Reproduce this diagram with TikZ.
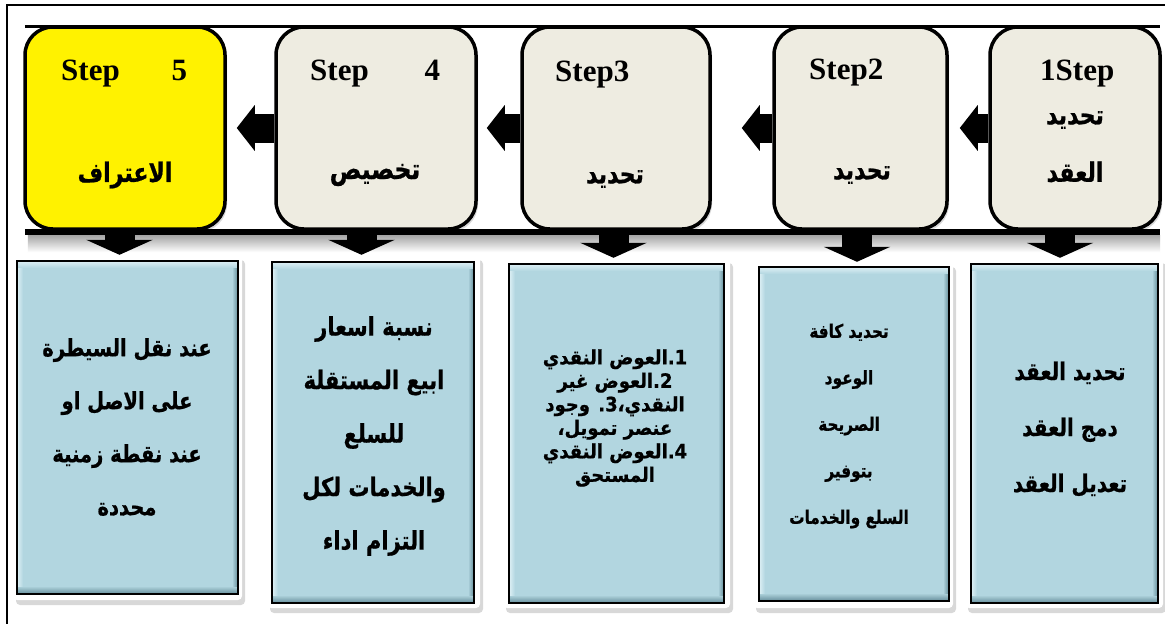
\documentclass[tikz,border=0pt]{standalone}
\usepackage{fontspec}
\setmainfont{Liberation Serif}
\newfontfamily\arabicfont[Script=Arabic, BoldFeatures={FakeBold=0.8}]{DejaVu Sans}
\TeXXeTstate=1
\usetikzlibrary{arrows.meta,shadows,calc}
\newcommand{\artext}[1]{\scalebox{1}[1.22]{\beginR #1\endR}}
\newcommand{\artextsmall}[1]{\scalebox{1}[1.1]{\beginR #1\endR}}
\definecolor{beige}{RGB}{238,236,225}
\definecolor{boxblue}{RGB}{178,214,224}
\definecolor{bevdark}{RGB}{110,150,162}
\definecolor{bevlight}{RGB}{215,236,242}
\begin{document}
\begin{tikzpicture}[x=1pt,y=-1pt,
  topbox/.style={draw=black, line width=3.5pt, rounded corners=28pt, fill=beige, inner sep=0pt,
    minimum height=202pt, drop shadow={opacity=0.3, shadow xshift=2pt, shadow yshift=-3pt}},
  bframe/.style={fill=white, rounded corners=4pt, inner sep=0pt,
    drop shadow={opacity=0.3, shadow xshift=3pt, shadow yshift=-5pt}},
  binner/.style={fill=boxblue, draw=black, line width=2pt, inner sep=0pt},
  larrow/.style={line width=29pt, -{Triangle[width=45pt,length=18pt]}},
  darrow/.style={line width=30pt, -{Triangle[width=66pt,length=15pt]}},
  steptxt/.style={font=\fontsize{31}{36}\selectfont\bfseries, inner sep=0pt, anchor=base west},
  artop/.style={font=\arabicfont\bfseries\fontsize{22}{26}\selectfont, inner sep=0pt},
  arbox/.style={align=center, inner sep=0pt}
]
\useasboundingbox (0,0) rectangle (1165,624);
\fill[white] (0,0) rectangle (1165,624);
% outer frame
\draw[line width=2pt] (7,624) -- (7,5) -- (1165,5);

% band behind the top boxes
\node[fill=white, minimum width=1135pt, minimum height=205pt, inner sep=0pt] (band) at (592.5,129.5) {};
\shade[top color=black!35, bottom color=white] ($(band.south west)+(3,3)$) rectangle ($(band.south east)+(0,20)$);
\draw[line width=3pt] (band.north west) -- (band.north east);

% top boxes
\node[topbox, fill=yellow, minimum width=200pt] (t5) at (125,128) {};
\node[topbox, minimum width=200pt] (t4) at (376,128) {};
\node[topbox, minimum width=188pt] (t3) at (616,128) {};
\node[topbox, minimum width=173pt] (t2) at (860.5,128) {};
\node[topbox, minimum width=170pt] (t1) at (1075,128) {};
\draw[line width=6pt] (band.south west) -- (band.south east);

% bottom boxes
\node[bframe, minimum width=229pt, minimum height=345pt] (b5) at (127.5,427.5) {};
\node[bframe, minimum width=213pt, minimum height=353pt] (b4) at (373.5,431.5) {};
\node[bframe, minimum width=227pt, minimum height=350pt] (b3) at (616.5,433) {};
\node[bframe, minimum width=200pt, minimum height=346pt] (b2) at (853,435) {};
\node[bframe, minimum width=198pt, minimum height=350pt] (b1) at (1064,433) {};
\node[binner, minimum width=219pt, minimum height=331pt] (b5i) at (127.5,427.5) {};
\node[binner, minimum width=200pt, minimum height=339pt] (b4i) at (373,432.5) {};
\node[binner, minimum width=213pt, minimum height=337pt] (b3i) at (616.5,433.5) {};
\node[binner, minimum width=188pt, minimum height=332pt] (b2i) at (854,434) {};
\node[binner, minimum width=185pt, minimum height=337pt] (b1i) at (1064.5,433.5) {};
\foreach \n in {b1i,b2i,b3i,b4i,b5i}{
  \shade[top color=bevlight, bottom color=boxblue] ($(\n.north west)+(1,1)$) rectangle ($(\n.north east)+(-1,7)$);
  \shade[top color=boxblue, bottom color=bevdark] ($(\n.south west)+(1,-8)$) rectangle ($(\n.south east)+(-1,-1)$);
  \shade[left color=boxblue, right color=bevdark] ($(\n.north east)+(-6,7)$) rectangle ($(\n.south east)+(-1,-8)$);
  \shade[left color=bevlight, right color=boxblue] ($(\n.north west)+(1,7)$) rectangle ($(\n.south west)+(6,-8)$);
  \draw[line width=2pt] (\n.north west) rectangle (\n.south east);
}

% arrows between the steps
\draw[larrow, shorten >=10pt] (t4.west) -- (t5.east);
\draw[larrow, shorten >=9pt] (t3.west) -- (t4.east);
\draw[larrow, shorten >=30pt] (t2.west) -- (t3.east);
\draw[larrow, shorten >=11pt] (t1.west) -- (t2.east);

% arrows down to the detail boxes
\draw[darrow] ([xshift=-8pt]b5.north |- band.south) -- ([xshift=-8pt]b5.north);
\draw[darrow] ([xshift=-12pt]b4.north |- band.south) -- ([xshift=-12pt]b4.north);
\draw[darrow] ([xshift=-3pt]b3.north |- band.south) -- ([xshift=-3pt]b3.north);
\draw[darrow] ([xshift=4pt]b2.north |- band.south) -- ([xshift=4pt]b2.north);
\draw[darrow] ([xshift=-4pt]b1.north |- band.south) -- ([xshift=-4pt]b1.north);

% step titles
\node[steptxt] (s5) at (61,80) {Step\hspace{52pt}5};
\node[steptxt] (s4) at (310,80) {Step\hspace{56pt}4};
\node[steptxt] (s3) at (555,81) {Step3};
\node[steptxt] (s2) at (809,79) {Step2};
\node[steptxt] (s1) at (1040,80) {1Step};

\node[artop] (a5) at (125,175) {\artext{الاعتراف}};
\node[artop, font=\arabicfont\bfseries\fontsize{23.5}{26}\selectfont] (a4) at (375,175) {\artext{تخصيص}};
\node[artop] (a3) at (615,179) {\artext{تحديد}};
\node[artop] (a2) at (862,175) {\artext{تحديد}};
\node[artop] (a1a) at (1075,120) {\artext{تحديد}};
\node[artop] (a1b) at (1075,172) {\artext{العقد}};

% detail texts
\node[arbox, font=\arabicfont\bfseries\fontsize{19.5}{53}\selectfont] (x5) at (127,427)
  {\artext{عند نقل السيطرة}\\\artext{على الاصل او}\\\artext{عند نقطة زمنية}\\\artext{محددة}};
\node[arbox, font=\arabicfont\bfseries\fontsize{21}{53.5}\selectfont] (x4) at (374,436)
  {\artext{نسبة اسعار}\\\artext{ابيع المستقلة}\\\artext{للسلع}\\\artext{والخدمات لكل}\\\artext{التزام اداء}};
\node[arbox, font=\arabicfont\bfseries\fontsize{18}{23.5}\selectfont] (x3) at (615,418)
  {\artextsmall{1.العوض النقدي}\\\artextsmall{2.العوض غير}\\\artextsmall{النقدي،3. وجود}\\\artextsmall{عنصر تمويل،}\\\artextsmall{4.العوض النقدي}\\\artextsmall{المستحق}};
\node[arbox, font=\arabicfont\bfseries\fontsize{15.3}{46.5}\selectfont] (x2) at (849,426)
  {\artext{تحديد كافة}\\\artext{الوعود}\\\artext{الصريحة}\\\artext{بتوفير}\\\artext{السلع والخدمات}};
\node[arbox, font=\arabicfont\bfseries\fontsize{20}{56}\selectfont] (x1) at (1070,429)
  {\artext{تحديد العقد}\\\artext{دمج العقد}\\\artext{تعديل العقد}};
\end{tikzpicture}
\end{document}
